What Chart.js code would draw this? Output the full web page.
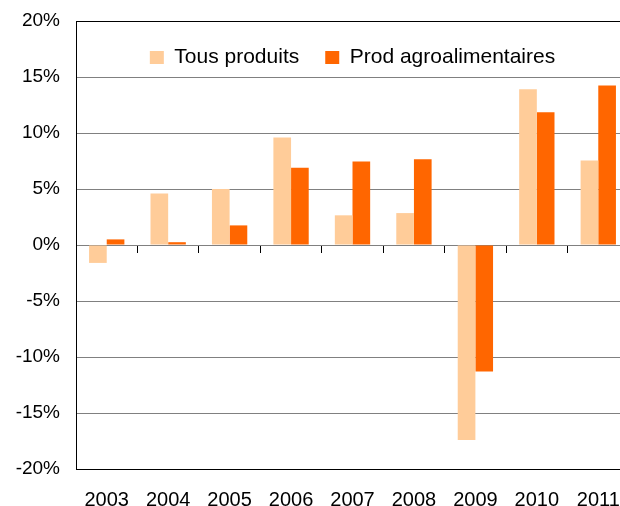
<!DOCTYPE html>
<html>
<head>
<meta charset="utf-8">
<script src="https://cdn.jsdelivr.net/npm/chart.js@4"></script>
<style>
    html, body { margin: 0; padding: 0; background: #fff; overflow: hidden; }
    #wrap { width: 620px; height: 506px; overflow: hidden; }
    canvas { display: block; }
</style>
</head>
<body>
<div id="wrap">
    <canvas id="trade-chart" width="636" height="512"></canvas>
</div>
<script>
// années et variations annuelles (%)
const years = ['2003', '2004', '2005', '2006', '2007', '2008', '2009', '2010', '2011'];
const tousProduits = [-1.6, 4.6, 5.0, 9.6, 2.65, 2.85, -17.4, 13.9, 7.55];
const prodAgro = [0.5, 0.25, 1.75, 6.9, 7.45, 7.65, -11.3, 11.85, 14.25];
const yTicks = [-20, -15, -10, -5, 0, 5, 10, 15, 20];

const font = 'Liberation Sans, Arial, sans-serif';
const gridGrey = '#808080';

// légende horizontale, posée dans la zone de tracé
const legendInside = {
    id: 'legendInside',
    afterInit(chart) {
        if (chart.legend) chart.legend.isHorizontal = () => true;
    },
    afterLayout(chart) {
        const lg = chart.legend;
        const area = chart.chartArea;
        if (!lg) return;
        lg.left = area.left;
        lg.right = area.right;
        lg.width = area.right - area.left;
        lg.top = area.top;
        lg.bottom = area.top + lg.height;
    }
};

const ctx = document.getElementById('trade-chart').getContext('2d');
const tradeChart = new Chart(ctx, {
    type: 'bar',
    data: {
        labels: years,
        datasets: [{
            label: 'Tous produits',
            data: tousProduits,
            backgroundColor: '#FFCC99',
            categoryPercentage: 0.575,
            barPercentage: 1,
        }, {
            label: 'Prod agroalimentaires',
            data: prodAgro,
            backgroundColor: '#FF6600',
            categoryPercentage: 0.575,
            barPercentage: 1,
        }]
    },
    plugins: [legendInside],
    options: {
        responsive: false,
        animation: false,
        devicePixelRatio: 1,
        layout: {
            padding: { left: 16, top: 21, right: 7, bottom: 0 }
        },
        plugins: {
            tooltip: { enabled: false },
            legend: {
                position: 'chartArea',
                align: 'center',
                fullSize: false,
                labels: {
                    boxWidth: 14,
                    boxHeight: 13,
                    padding: 26,
                    color: '#000',
                    font: { family: font, size: 21 },
                }
            }
        },
        scales: {
            x: {
                position: 'bottom',
                grid: { display: false, drawTicks: false },
                border: { display: true, color: '#000', width: 1 },
                ticks: {
                    color: '#000',
                    padding: 19,
                    font: { family: font, size: 20 },
                    maxRotation: 0,
                },
                afterFit: (scale) => {
                    scale.height = 43;
                    scale.paddingLeft = 0;
                    scale.paddingRight = 0;
                },
            },
            // axe des catégories au niveau de 0 %
            xZero: {
                type: 'category',
                position: { y: 0 },
                grid: {
                    drawOnChartArea: false,
                    tickLength: 7,
                    tickColor: '#000',
                    offset: true,
                },
                border: { display: true, color: gridGrey, width: 1 },
                ticks: { display: false },
                afterFit: (scale) => { scale.height = 0; },
            },
            y: {
                min: -20,
                max: 20,
                afterBuildTicks: (scale) => {
                    scale.ticks = yTicks.map(v => ({ value: v }));
                },
                afterFit: (scale) => {
                    scale.width = 60;
                    scale.paddingTop = 0;
                    scale.paddingBottom = 0;
                },
                grid: {
                    drawTicks: false,
                    color: (c) => (c.tick && Math.abs(c.tick.value) === 20) ? '#000' : gridGrey,
                },
                border: { display: true, color: '#000', width: 1 },
                ticks: {
                    color: '#000',
                    padding: 16,
                    font: { family: font, size: 19 },
                    callback: (v) => v + '%',
                }
            }
        }
    }
});
</script>
</body>
</html>
